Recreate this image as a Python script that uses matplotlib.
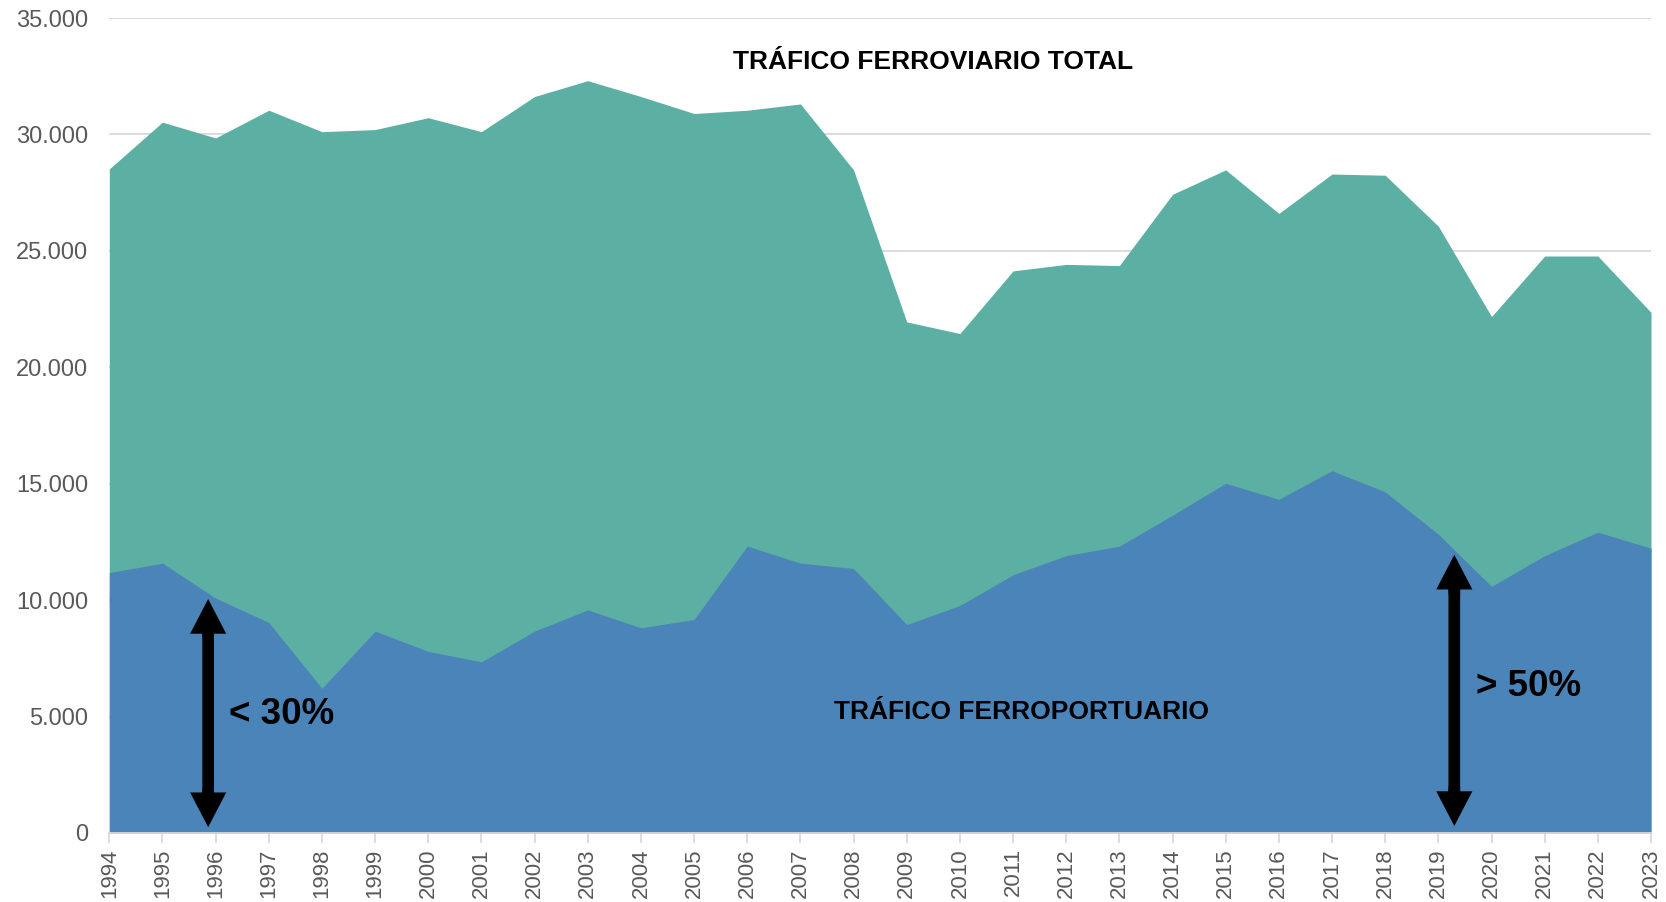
import matplotlib.pyplot as plt
from matplotlib.ticker import FuncFormatter

# datos (miles de toneladas aprox.)
years = list(range(1994, 2024))
total = [28520, 30530, 29850, 31040, 30120, 30210, 30720, 30120, 31630, 32310,
         31630, 30900, 31040, 31310, 28480, 21950, 21450, 24140, 24420, 24370,
         27430, 28480, 26610, 28300, 28250, 26060, 22180, 24780, 24780, 22360]
ferroportuario = [11180, 11590, 10090, 9040, 6210, 8670, 7800, 7350, 8670, 9580,
                  8810, 9170, 12320, 11590, 11360, 8950, 9770, 11090, 11910, 12320,
                  13650, 15020, 14330, 15560, 14650, 12830, 10590, 11910, 12920, 12230]
y_ticks = [0, 5000, 10000, 15000, 20000, 25000, 30000, 35000]

plt.rcParams['font.family'] = ['Liberation Sans', 'DejaVu Sans']

fig = plt.figure(figsize=(16.66, 9.02), dpi=100)
ax = fig.add_axes([0.0656, 0.0765, 0.9254, 0.9035])

ax.fill_between(years, 0, total, color='#5BB0A3', linewidth=0, zorder=2)
ax.fill_between(years, 0, ferroportuario, color='#4A84B8', linewidth=0, zorder=3)

ax.set_xlim(years[0], years[-1])
ax.set_ylim(0, 35000)
ax.set_yticks(y_ticks)
ax.yaxis.set_major_formatter(FuncFormatter(lambda v, p: f'{int(v):,}'.replace(',', '.')))
ax.set_xticks(years)
ax.set_xticklabels([str(y) for y in years], rotation=90)

ax.grid(axis='y', color='#D9D9D9', linewidth=1.3, zorder=1)
ax.set_axisbelow(True)
for s in ['top', 'right', 'left']:
    ax.spines[s].set_visible(False)
ax.spines['bottom'].set_color('#D9D9D9')
ax.spines['bottom'].set_linewidth(1.3)
ax.spines['bottom'].set_zorder(4)
ax.tick_params(axis='y', length=0, labelsize=17, labelcolor='#595959', pad=15)
ax.tick_params(axis='x', length=7, color='#D9D9D9', width=1.3, labelsize=16,
               labelcolor='#595959', pad=4)

ax.text(2009.5, 33100, 'TRÁFICO FERROVIARIO TOTAL', fontsize=19, fontweight='bold',
        ha='center', va='center', zorder=5)
ax.text(2011.15, 5200, 'TRÁFICO FERROPORTUARIO', fontsize=19, fontweight='bold',
        ha='center', va='center', zorder=5)

# flechas dobles: solo las puntas con annotate, el tramo con vlines
arrow = dict(width=8.4, headwidth=26, headlength=25, color='black', linewidth=0,
             shrink=0)
for x, y0, y1 in [(1995.86, 250, 10050), (2019.3, 300, 11950)]:
    ax.annotate('', xy=(x, y0), xytext=(x, y0 + 1700), arrowprops=arrow, zorder=6)
    ax.annotate('', xy=(x, y1), xytext=(x, y1 - 1700), arrowprops=arrow, zorder=6)
    ax.vlines(x, y0 + 1300, y1 - 1300, color='black', lw=8.4, capstyle='butt',
              snap=False, zorder=6)
ax.text(1996.25, 5100, '< 30%', fontsize=26.5, fontweight='bold', ha='left', va='center', zorder=6)
ax.text(2019.7, 6300, '> 50%', fontsize=26.5, fontweight='bold', ha='left', va='center', zorder=6)

fig.savefig('out.png', dpi=100)
